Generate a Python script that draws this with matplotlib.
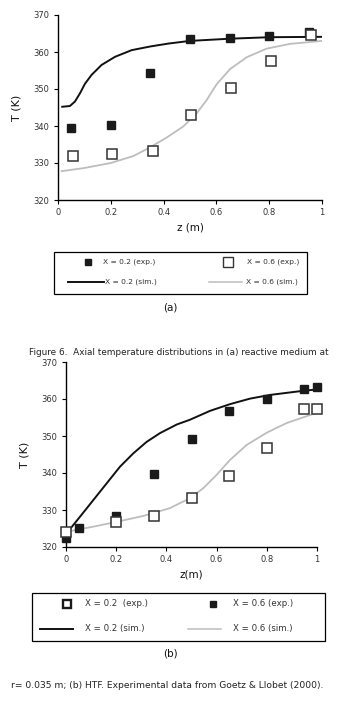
import matplotlib
matplotlib.use("Agg")
import matplotlib.pyplot as plt
from matplotlib.lines import Line2D
from matplotlib.patches import Rectangle

plt.rcParams['font.family'] = ['DejaVu Sans']

# ---- (a) data ----
a_exp02_z = [0.05, 0.2, 0.35, 0.5, 0.65, 0.8, 0.95]
a_exp02_T = [339.5, 340.2, 354.4, 363.4, 363.7, 364.3, 365.5]
a_exp06_z = [0.055, 0.205, 0.36, 0.505, 0.655, 0.805, 0.96]
a_exp06_T = [331.8, 332.4, 333.2, 343.0, 350.2, 357.5, 364.5]
a_sim02_z = [0.016, 0.045, 0.064, 0.083, 0.102, 0.127, 0.165, 0.216, 0.279, 0.35, 0.42, 0.5,
             0.652, 0.803, 1.0]
a_sim02_T = [345.2, 345.4, 346.6, 348.8, 351.4, 353.8, 356.5, 358.7, 360.5, 361.5, 362.3, 363.0,
             363.6, 364.0, 364.1]
a_sim06_z = [0.014, 0.096, 0.2, 0.286, 0.348, 0.412, 0.475, 0.525, 0.563, 0.601, 0.652, 0.715,
             0.79, 0.879, 1.0]
a_sim06_T = [327.8, 328.6, 330.0, 331.9, 334.2, 336.9, 339.9, 343.4, 347.0, 351.3, 355.4, 358.6,
             360.9, 362.2, 363.0]

# ---- (b) data ----
b_fill_z = [0.0, 0.05, 0.2, 0.35, 0.5, 0.65, 0.8, 0.95, 1.0]
b_fill_T = [322.3, 325.2, 328.4, 339.7, 349.3, 356.8, 359.9, 362.7, 363.2]
b_open_z = [0.0, 0.2, 0.35, 0.5, 0.65, 0.8, 0.95, 1.0]
b_open_T = [324.1, 326.7, 328.4, 333.2, 339.1, 346.7, 357.3, 357.3]
b_sim_black_z = [0.0, 0.056, 0.109, 0.162, 0.215, 0.268, 0.321, 0.375, 0.441, 0.494, 0.574,
                 0.653, 0.733, 0.813, 0.919, 1.0]
b_sim_black_T = [323.5, 328.2, 332.7, 337.2, 341.7, 345.3, 348.4, 350.8, 353.1, 354.4, 356.8,
                 358.6, 360.1, 361.1, 362.0, 362.6]
b_sim_gray_z = [0.0, 0.109, 0.202, 0.308, 0.414, 0.494, 0.547, 0.6, 0.653, 0.72, 0.8, 0.879, 1.0]
b_sim_gray_T = [324.1, 325.5, 326.8, 328.4, 330.5, 333.2, 335.9, 339.5, 343.5, 347.6, 350.9,
                353.5, 356.3]

y_ticks = [320, 330, 340, 350, 360, 370]
x_ticks = [0, 0.2, 0.4, 0.6, 0.8, 1]
x_ticklabels = ['0', '0.2', '0.4', '0.6', '0.8', '1']

GRAY = '#bdbdbd'
TXT = '#333333'
W, H = 341, 705

fig = plt.figure(figsize=(3.41, 7.05), dpi=100)

def fx(px):
    return px / W

def fy(py):
    return 1 - py / H

def style(ax, xlabel):
    ax.set_xlim(0, 1)
    ax.set_ylim(320, 370)
    ax.set_xticks(x_ticks)
    ax.set_xticklabels(x_ticklabels)
    ax.set_yticks(y_ticks)
    for s in ['top', 'right']:
        ax.spines[s].set_visible(False)
    for s in ['left', 'bottom']:
        ax.spines[s].set_linewidth(1.0)
    ax.tick_params(direction='out', length=3, width=0.8, labelsize=6, labelcolor=TXT, pad=3)
    ax.set_xlabel(xlabel, fontsize=7.5, color='#111111', labelpad=4)
    ax.set_ylabel('T (K)', fontsize=8, color='#111111', labelpad=9)

def legend_box(x0, x1, y0, y1, entries, fs):
    fig.patches.append(Rectangle((fx(x0), fy(y1)), fx(x1) - fx(x0), fy(y0) - fy(y1),
                                 transform=fig.transFigure, fill=False, ec='black', lw=0.9))
    for kind, hx, hy, tx, label in entries:
        if kind == 'line_black':
            fig.add_artist(Line2D([fx(hx[0]), fx(hx[1])], [fy(hy), fy(hy)], color='#111111', lw=1.4,
                                  transform=fig.transFigure))
        elif kind == 'line_gray':
            fig.add_artist(Line2D([fx(hx[0]), fx(hx[1])], [fy(hy), fy(hy)], color=GRAY, lw=1.1,
                                  transform=fig.transFigure))
        elif kind == 'filled':
            fig.add_artist(Line2D([fx(hx)], [fy(hy)], ls='none', marker='s', ms=5.0, mfc='#1a1a1a',
                                  mec='#1a1a1a', transform=fig.transFigure))
        elif kind == 'open':
            fig.add_artist(Line2D([fx(hx)], [fy(hy)], ls='none', marker='s', ms=6.5, mfc='white',
                                  mec='#333333', mew=1.0, transform=fig.transFigure))
        elif kind == 'open_thick':
            fig.add_artist(Line2D([fx(hx)], [fy(hy)], ls='none', marker='s', ms=5.5, mfc='white',
                                  mec='#1a1a1a', mew=1.7, transform=fig.transFigure))
        fig.text(fx(tx), fy(hy), label, ha='left', va='center', fontsize=fs, color=TXT)

# ---- axes (a) ----
ax1 = fig.add_axes([fx(58), fy(200), fx(322) - fx(58), fy(15) - fy(200)])
ax1.plot(a_sim06_z, a_sim06_T, color=GRAY, lw=1.3, zorder=2)
ax1.plot(a_sim02_z, a_sim02_T, color='#111111', lw=1.4, zorder=2)
ax1.plot(a_exp02_z, a_exp02_T, ls='none', marker='s', ms=5.5, mfc='#1a1a1a', mec='#1a1a1a', zorder=3)
ax1.plot(a_exp06_z, a_exp06_T, ls='none', marker='s', ms=6.5, mfc='white', mec='#333333', mew=1.1,
         zorder=4)
style(ax1, 'z (m)')

legend_box(54, 307, 252, 294, [
    ('filled', 88, 262, 103, 'X = 0.2 (exp.)'),
    ('line_black', (68, 104), 282, 105, 'X = 0.2 (sim.)'),
    ('open', 228, 262, 247, 'X = 0.6 (exp.)'),
    ('line_gray', (209, 242), 282, 246, 'X = 0.6 (sim.)'),
], 5.4)
fig.text(0.5, fy(308), '(a)', ha='center', va='center', fontsize=7.5, color='#111111')

fig.text(fx(179), fy(353),
         'Figure 6.  Axial temperature distributions in (a) reactive medium at',
         ha='center', va='center', fontsize=6.4, color='#222222')

# ---- axes (b) ----
ax2 = fig.add_axes([fx(66), fy(547), fx(317) - fx(66), fy(362) - fy(547)])
ax2.plot(b_sim_gray_z, b_sim_gray_T, color=GRAY, lw=1.3, zorder=2)
ax2.plot(b_sim_black_z, b_sim_black_T, color='#111111', lw=1.4, zorder=2)
ax2.plot(b_fill_z, b_fill_T, ls='none', marker='s', ms=5.5, mfc='#1a1a1a', mec='#1a1a1a', zorder=3,
         clip_on=False)
ax2.plot(b_open_z, b_open_T, ls='none', marker='s', ms=6.5, mfc='white', mec='#333333', mew=1.1,
         zorder=4, clip_on=False)
style(ax2, 'z(m)')

legend_box(32, 325, 593, 641, [
    ('open_thick', 67, 604, 85, 'X = 0.2  (exp.)'),
    ('line_black', (40, 73), 629, 85, 'X = 0.2 (sim.)'),
    ('filled', 213, 604, 233, 'X = 0.6 (exp.)'),
    ('line_gray', (188, 221), 629, 233, 'X = 0.6 (sim.)'),
], 6.2)
fig.text(0.5, fy(654), '(b)', ha='center', va='center', fontsize=7.5, color='#111111')

fig.text(fx(167), fy(686),
         'r= 0.035 m; (b) HTF. Experimental data from Goetz & Llobet (2000).',
         ha='center', va='center', fontsize=6.6, color='#222222')

fig.savefig('out.png', dpi=100, facecolor='white')
